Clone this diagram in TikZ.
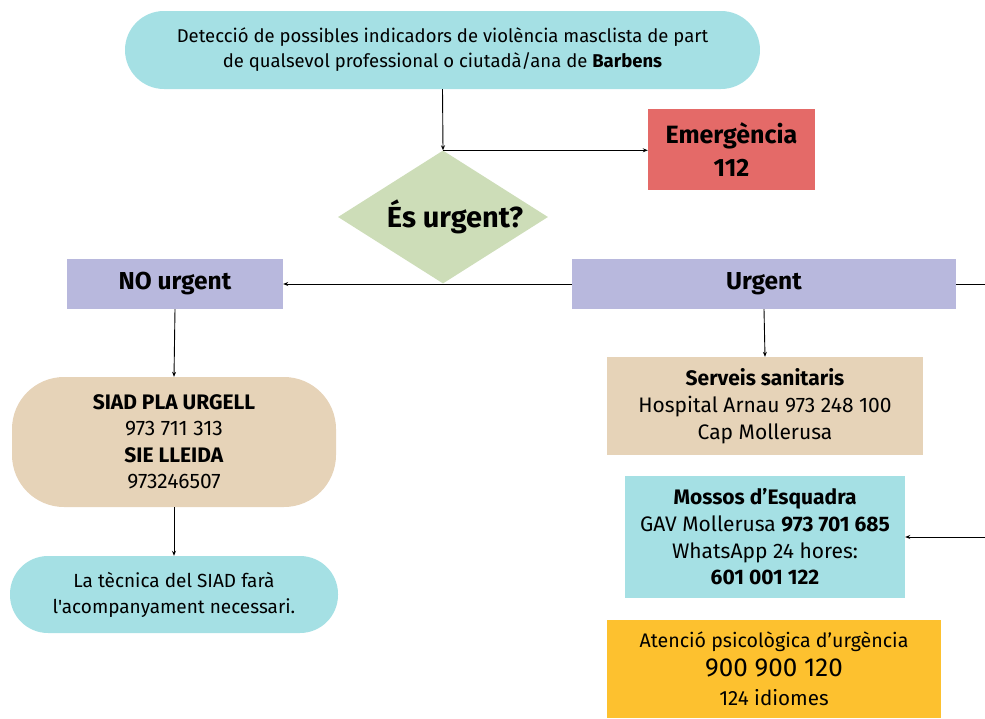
\documentclass[tikz,border=0pt]{standalone}
\usepackage{fontspec}
\setmainfont{Fira Sans}
\newfontfamily\plainf{Fira Sans}[Ligatures=TeXOff]
\usetikzlibrary{shapes.geometric,arrows.meta}
\definecolor{cyanbox}{HTML}{A5E0E4}
\definecolor{redbox}{HTML}{E46A68}
\definecolor{greenbox}{HTML}{CDDDB8}
\definecolor{lavbox}{HTML}{B8B8DD}
\definecolor{beigebox}{HTML}{E6D3B8}
\definecolor{yelbox}{HTML}{FDC12F}
\tikzset{
  box/.style={inner sep=0pt, align=center, text=black},
  arr/.style={-{Stealth[length=5pt,width=4pt]}, line width=0.9pt, black},
  ln/.style={line width=0.9pt, black},
}
\begin{document}
\begin{tikzpicture}[x=1pt,y=-1pt]
\useasboundingbox (0,0) rectangle (985,718);
\node[box, fill=cyanbox, minimum width=635pt, minimum height=78pt, rounded corners=39pt,
  font=\fontsize{18.5}{25}\selectfont] (top) at (442.5,50)
  {Detecció de possibles indicadors de violència masclista de part\\de qualsevol professional o ciutadà/ana de \textbf{Barbens}};
\node[box, fill=redbox, minimum width=167pt, minimum height=81pt,
  font=\bfseries\fontsize{25}{33}\selectfont] (emer) at (731.5,149.5) {Emergència\\112};
\node[box, diamond, fill=greenbox, minimum width=210pt, minimum height=133pt, aspect=1.58,
  font=\bfseries\fontsize{29}{30}\selectfont] (dia) at (443,217) {\hspace*{12pt}És urgent?\hspace*{-12pt}};
\node[box, fill=lavbox, minimum width=216pt, minimum height=50pt,
  font=\bfseries\fontsize{24.5}{26}\selectfont] (nourg) at (175,284) {NO urgent};
\node[box, fill=lavbox, minimum width=384pt, minimum height=50pt,
  font=\bfseries\fontsize{24.5}{26}\selectfont] (urg) at (764,284) {Urgent};
\node[box, fill=beigebox, minimum width=324pt, minimum height=130pt, rounded corners=52pt,
  font=\fontsize{21}{26.5}\selectfont] (siad) at (174,442)
  {\textbf{SIAD PLA URGELL}\\973 711 313\\\textbf{SIE LLEIDA}\\973246507};
\node[box, fill=cyanbox, minimum width=328pt, minimum height=77pt, rounded corners=38pt,
  font=\plainf\fontsize{19}{26}\selectfont] (tec) at (174,594.5)
  {La tècnica del SIAD farà\\l'acompanyament necessari.};
\node[box, fill=beigebox, minimum width=316pt, minimum height=98pt,
  font=\fontsize{21}{27}\selectfont] (serv) at (765,406)
  {\textbf{Serveis sanitaris}\\Hospital Arnau 973 248 100\\Cap Mollerusa};
\node[box, fill=cyanbox, minimum width=280pt, minimum height=122pt,
  font=\fontsize{21}{26.7}\selectfont] (mos) at (765,537)
  {\textbf{Mossos d’Esquadra}\\GAV Mollerusa \textbf{973 701 685}\\WhatsApp 24 hores:\\\textbf{601 001 122}};
\node[box, fill=yelbox, minimum width=334pt, minimum height=98pt,
  font=\fontsize{19.6}{29}\selectfont] (aten) at (774,669)
  {Atenció psicològica d’urgència\\{\fontsize{26}{29}\selectfont 900 900 120}\\{\fontsize{20.6}{29}\selectfont 124 idiomes}};
\coordinate (edgeA) at (985,284);
\coordinate (edgeB) at (985,537);
\draw[arr] (top.south) -- (dia.north);
\draw[arr] (dia.north) -- (emer.west |- dia.north);
\draw[arr] (urg.west) -- (nourg.east);
\draw[ln] (urg.east) -- (edgeA);
\draw[arr] (edgeB) -- (mos.east);
\draw[arr] (nourg.south) -- (siad.north);
\draw[arr] (siad.south) -- (tec.north);
\draw[arr] (urg.south) -- (serv.north);
\end{tikzpicture}
\end{document}
